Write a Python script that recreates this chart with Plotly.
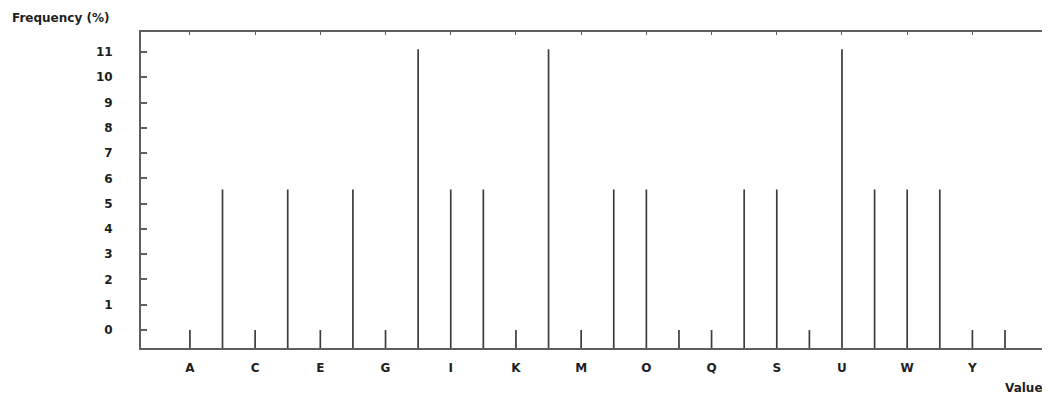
import plotly.graph_objects as go

# ---- data ----
categories = list("ABCDEFGHIJKLMNOPQRSTUVWXYZ")
frequency_pct = [0, 5.56, 0, 5.56, 0, 5.56, 0, 11.11, 5.56, 5.56, 0, 11.11, 0,
                 5.56, 5.56, 0, 0, 5.56, 5.56, 0, 11.11, 5.56, 5.56, 5.56, 0, 0]
x_tick_labels = categories[::2]
y_tick_values = list(range(0, 12))

# ---- style ----
Y_MIN, Y_MAX = -0.71, 11.79
X_MIN, X_MAX = -1.5, 26.38
FONT = "DejaVu Sans, Verdana, sans-serif"
AXIS_COLOR = "#5f5f5f"
BAR_COLOR = "#3c3c3c"
TXT = "#1e1e1e"

# build vertical stick segments (from axis floor up to each value)
seg_x, seg_y = [], []
for c, v in zip(categories, frequency_pct):
    seg_x += [c, c, None]
    seg_y += [Y_MIN, v, None]

fig = go.Figure()
fig.add_trace(go.Scatter(
    x=seg_x, y=seg_y, mode="lines",
    line=dict(color=BAR_COLOR, width=1.7),
    connectgaps=False, showlegend=False, hoverinfo="skip",
))
# invisible trace to anchor the mirrored axes
fig.add_trace(go.Scatter(x=[categories[0]], y=[0], xaxis="x2", yaxis="y2",
                         mode="markers", marker=dict(opacity=0),
                         showlegend=False, hoverinfo="skip"))

fig.update_layout(
    width=1042, height=389,
    margin=dict(l=133, r=0, t=24, b=49),
    paper_bgcolor="white", plot_bgcolor="white",
    font=dict(family=FONT, size=12, color=TXT),
    xaxis=dict(
        type="category", categoryorder="array", categoryarray=categories,
        range=[X_MIN, X_MAX],
        tickmode="array", tickvals=x_tick_labels, ticktext=x_tick_labels,
        ticks="", showgrid=False, zeroline=False,
        showline=True, linecolor=AXIS_COLOR, linewidth=2,
        tickfont=dict(family=FONT, size=12, color=TXT, weight="bold"),
        ticklabelstandoff=8,
    ),
    yaxis=dict(
        range=[Y_MIN, Y_MAX],
        tickmode="array", tickvals=y_tick_values,
        ticks="inside", ticklen=6, tickwidth=2, tickcolor=AXIS_COLOR,
        showgrid=False, zeroline=False,
        showline=True, linecolor=AXIS_COLOR, linewidth=2,
        tickfont=dict(family=FONT, size=12, color=TXT, weight="bold"),
        ticklabelstandoff=24,
    ),
    xaxis2=dict(
        type="category", categoryorder="array", categoryarray=categories,
        overlaying="x", side="top", anchor="y2", matches="x",
        range=[X_MIN, X_MAX],
        tickmode="array", tickvals=x_tick_labels,
        showticklabels=False,
        ticks="inside", ticklen=3, tickwidth=1, tickcolor=AXIS_COLOR,
        showgrid=False, zeroline=False,
        showline=True, linecolor=AXIS_COLOR, linewidth=2,
    ),
    yaxis2=dict(
        overlaying="y", side="right", anchor="x2", matches="y",
        range=[Y_MIN, Y_MAX],
        tickmode="array", tickvals=y_tick_values,
        showticklabels=False,
        ticks="inside", ticklen=3, tickwidth=2, tickcolor="#777777",
        showgrid=False, zeroline=False, showline=False,
    ),
    annotations=[
        dict(text="Frequency (%)", xref="paper", yref="paper",
             x=-0.144, y=1.043, xanchor="left", yanchor="middle",
             showarrow=False,
             font=dict(family=FONT, size=12, color=TXT, weight="bold")),
        dict(text="Value", xref="paper", yref="paper",
             x=0.9945, y=-0.126, xanchor="right", yanchor="middle",
             showarrow=False,
             font=dict(family=FONT, size=12, color=TXT, weight="bold")),
    ],
)

fig.write_html("out.html")
